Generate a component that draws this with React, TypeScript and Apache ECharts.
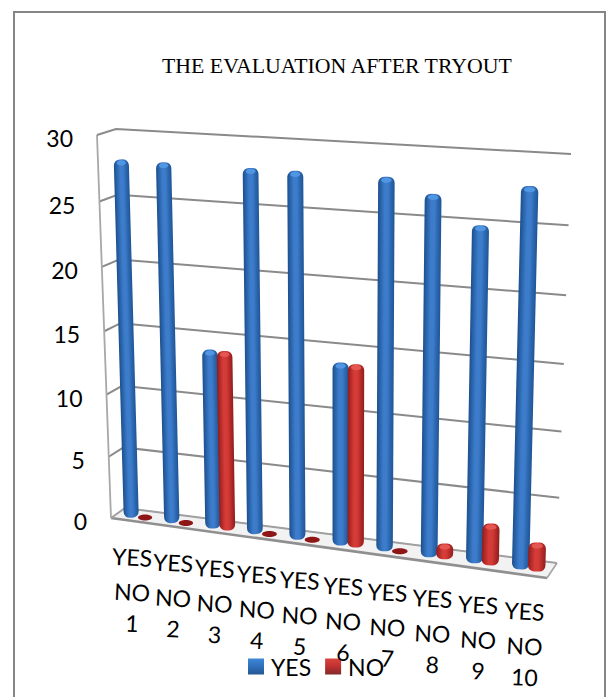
import React, { useEffect, useRef } from "react";
import * as echarts from "echarts";

const title = "THE EVALUATION AFTER TRYOUT";
const categories = ["1", "2", "3", "4", "5", "6", "7", "8", "9", "10"];
const yesValues = [28, 28, 14, 28, 28, 14, 28, 27, 25, 28];
const noValues = [0, 0, 14, 0, 0, 14, 0, 1, 3, 2];
const valueTicks = [0, 5, 10, 15, 20, 25, 30];

const FONT = "Lato, Carlito, 'Open Sans', sans-serif";
const G = { left: 116, top: 129, width: 441, height: 434 };

type Pt = [number, number];
function homography(p0: Pt, p1: Pt, p2: Pt, p3: Pt) {
  const [x0, y0] = p0, [x1, y1] = p1, [x2, y2] = p2, [x3, y3] = p3;
  const dx1 = x1 - x2, dx2 = x3 - x2, sx = x0 - x1 + x2 - x3;
  const dy1 = y1 - y2, dy2 = y3 - y2, sy = y0 - y1 + y2 - y3;
  const den = dx1 * dy2 - dx2 * dy1;
  const g = (sx * dy2 - dx2 * sy) / den;
  const h = (dx1 * sy - sx * dy1) / den;
  const a = x1 - x0 + g * x1, b = x3 - x0 + h * x3;
  const d = y1 - y0 + g * y1, e = y3 - y0 + h * y3;
  return (u: number, v: number): Pt => {
    const w = g * u + h * v + 1;
    return [(a * u + b * v + x0) / w, (d * u + e * v + y0) / w];
  };
}
// (u, v): u across the chart, v up the value axis. Corners: bottom-left, bottom-right, top-right, top-left
const backWall = homography([125, 508], [557, 563], [571, 154], [116, 129]);
const frontWall = homography([111, 518], [547, 578], [556, 165], [97, 135]);
function project(u: number, v: number, depth: number): Pt {
  const b = backWall(u, v), f = frontWall(u, v);
  return [b[0] + (f[0] - b[0]) * depth, b[1] + (f[1] - b[1]) * depth];
}
const toUV = (px: number[]) => [(px[0] - G.left) / G.width, (G.top + G.height - px[1]) / G.height];

const grad = (stops: string[]) =>
  new echarts.graphic.LinearGradient(0, 0, 1, 0, stops.map((color, i) => ({ offset: i / (stops.length - 1), color })));

const BLUE = {
  body: ["#1d4f8c", "#2b66ae", "#3d7ccb", "#3d7ccb", "#2b66ae", "#1f5596"],
  cap: "#5196e2",
};
const RED = {
  body: ["#8f1d1d", "#b82c2a", "#d63d38", "#d23a36", "#b42a28", "#8f1d1d"],
  cap: "#e4564f",
};

function barRenderer(colors: { body: string[]; cap: string }, shift: number) {
  return (_: any, api: any) => {
    const px = api.coord([api.value(0), api.value(1)]);
    const [u0, v] = toUV(px);
    const u = u0 + shift;
    const base = project(u, 0, 0.5);
    const top = project(u, v, 0.5);
    const a = project(u - 0.0185, 0, 0.5), b = project(u + 0.0185, 0, 0.5);
    const w = Math.hypot(b[0] - a[0], b[1] - a[1]);
    if (api.value(1) <= 0) {
      return {
        type: "ellipse",
        shape: { cx: base[0], cy: base[1] + 1, rx: w / 2 - 0.5, ry: 3 },
        style: { fill: "#8e1616" },
      };
    }
    const h = Math.hypot(top[0] - base[0], top[1] - base[1]);
    const rotation = -Math.atan2(top[0] - base[0], base[1] - top[1]);
    return {
      type: "group",
      x: base[0],
      y: base[1],
      rotation,
      children: [
        {
          type: "rect",
          shape: { x: -w / 2, y: -h, width: w, height: h + 3, r: [6, 6, 6, 6] },
          style: { fill: grad(colors.body) },
        },
        {
          type: "ellipse",
          shape: { cx: 0, cy: -h + 3.5, rx: w / 2 - 3, ry: 2.6 },
          style: { fill: colors.cap },
        },
      ],
    };
  };
}

function frameRenderer(_: any, api: any) {
  const tick = api.value(1);
  const [, v] = toUV(api.coord([0, tick]));
  const lineStyle = { stroke: "#8a8a8a", lineWidth: 2, fill: "none" };
  const fl = project(0, v, 1), bl = project(0, v, 0), br = project(1, v, 0);
  const children: any[] = [];
  if (tick === 0) {
    const frontRight = project(1, 0, 1);
    children.push({
      type: "polygon",
      shape: { points: [fl, bl, br, frontRight] },
      style: { fill: "#f2f2f2", stroke: "#b5b5b5", lineWidth: 1 },
    });
    children.push({
      type: "polyline",
      shape: { points: [fl, frontRight] },
      style: { stroke: "#8f8f8f", lineWidth: 2.6, fill: "none" },
    });
    children.push({
      type: "polyline",
      shape: { points: [frontRight, br] },
      style: { stroke: "#a5a5a5", lineWidth: 1.6, fill: "none" },
    });
  }
  if (tick === valueTicks[valueTicks.length - 1]) {
    children.push({
      type: "polyline",
      shape: { points: [project(0, 0, 1), fl] },
      style: { stroke: "#a8a8a8", lineWidth: 1.8, fill: "none" },
    });
  }
  children.push({
    type: "polyline",
    shape: { points: [fl, bl, br] },
    style: tick === 0 ? { ...lineStyle, stroke: "#a0a0a0" } : lineStyle,
  });
  children.push({
    type: "text",
    x: fl[0] - 24,
    y: fl[1] + 3,
    style: {
      text: String(tick),
      fontFamily: FONT,
      fontSize: 23,
      fill: "#000",
      align: "right",
      verticalAlign: "middle",
    },
  });
  return { type: "group", children };
}

function labelRenderer(_: any, api: any) {
  const [u] = toUV(api.coord([api.value(0), 0]));
  const p = project(u, 0, 1);
  const lines = ["YES", "NO", categories[api.value(0)]];
  const offsets = [36, 71, 102];
  return {
    type: "group",
    children: lines.map((text, i) => ({
      type: "text",
      x: p[0] + 1,
      y: p[1] + offsets[i],
      rotation: -0.05,
      style: {
        text,
        fontFamily: FONT,
        fontSize: 23,
        fill: "#000",
        align: "center",
        verticalAlign: "middle",
      },
    })),
  };
}

export default function App() {
  const ref = useRef<HTMLDivElement>(null);
  useEffect(() => {
    const chart = echarts.init(ref.current!, undefined, { renderer: "svg" });
    chart.setOption({
      animation: false,
      backgroundColor: "#fff",
      title: {
        text: title,
        left: 157,
        top: 50,
        textStyle: { fontFamily: "'Liberation Serif', serif", fontSize: 21.8, fontWeight: "normal", color: "#000" },
      },
      grid: { ...G },
      xAxis: { type: "category", data: categories, show: false },
      yAxis: { type: "value", min: 0, max: 30, interval: 5, show: false },
      legend: {
        left: 248,
        top: 655,
        padding: 0,
        itemWidth: 16,
        itemHeight: 16,
        itemGap: 14,
        icon: "rect",
        textStyle: { fontFamily: FONT, fontSize: 23, color: "#000", padding: [0, 0, 0, 2] },
        data: [
          {
            name: "YES",
            itemStyle: {
              color: new echarts.graphic.LinearGradient(0, 0, 0, 1, [
                { offset: 0, color: "#3f86d6" },
                { offset: 0.5, color: "#2f6fbd" },
                { offset: 1, color: "#24568f" },
              ]),
            },
          },
          {
            name: "NO",
            itemStyle: {
              color: new echarts.graphic.LinearGradient(0, 0, 0, 1, [
                { offset: 0, color: "#d8453f" },
                { offset: 0.5, color: "#c03030" },
                { offset: 1, color: "#7f2a2a" },
              ]),
            },
          },
        ],
      },
      graphic: [
        {
          type: "rect",
          shape: { x: 14, y: 12, width: 591, height: 700 },
          style: { fill: "none", stroke: "#868686", lineWidth: 2 },
          silent: true,
        },
      ],
      series: [
        {
          type: "custom",
          name: "frame",
          z: 1,
          silent: true,
          renderItem: frameRenderer,
          data: valueTicks.map((t) => [categories[0], t]),
        },
        {
          type: "custom",
          name: "YES",
          z: 2,
          itemStyle: { color: "#2f6fbd" },
          renderItem: barRenderer(BLUE, -0.0172),
          data: yesValues.map((v, i) => [categories[i], v]),
        },
        {
          type: "custom",
          name: "NO",
          z: 3,
          itemStyle: { color: "#c03030" },
          renderItem: barRenderer(RED, 0.0172),
          data: noValues.map((v, i) => [categories[i], v]),
        },
        {
          type: "custom",
          name: "labels",
          z: 4,
          silent: true,
          renderItem: labelRenderer,
          data: categories.map((c) => [c, 0]),
        },
      ],
    });
    return () => chart.dispose();
  }, []);
  return <div ref={ref} style={{ position: "absolute", left: 0, top: 0, width: 606, height: 697 }} />;
}
